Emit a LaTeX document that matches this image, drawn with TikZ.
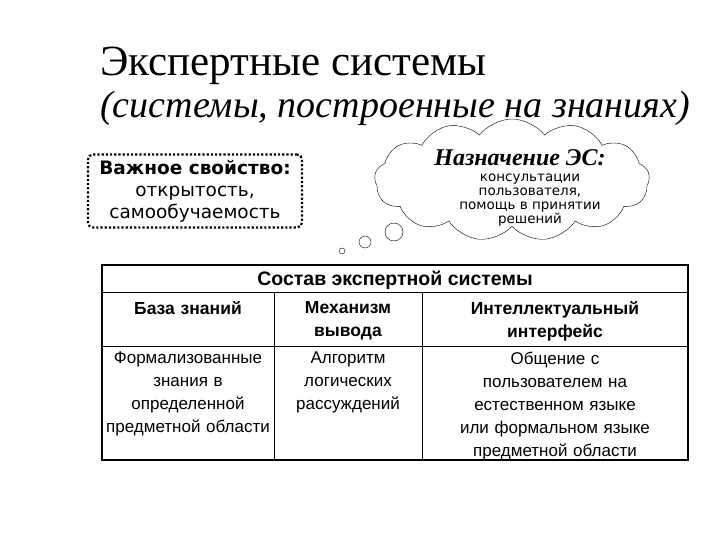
\documentclass[tikz,border=0pt]{standalone}
\usepackage{fontspec}
\setmainfont{Liberation Serif}
\newfontfamily\dv{DejaVu Sans}
\newfontfamily\ar{Liberation Sans}
\usetikzlibrary{shapes.symbols}
\begin{document}
\begin{tikzpicture}[x=1pt,y=-1pt,
  cell/.style={align=center,font=\ar\fontsize{17}{23}\selectfont,anchor=north,text width=262pt,inner sep=2pt},
  hcell/.style={cell,font=\ar\bfseries\fontsize{17.5}{23}\selectfont},
  bub/.style={draw,fill=white}]
\useasboundingbox (0,0) rectangle (720,540);
\node[anchor=base west,inner sep=0,font=\fontsize{43}{48}\selectfont] (t1) at (100,76) {Экспертные системы};
\node[anchor=base west,inner sep=0,font=\fontsize{38}{42}\selectfont\itshape] (t2) at (100,118) {(системы, построенные на знаниях)};
\node[draw,line width=2.2pt,dotted,rounded corners=5pt,minimum width=214pt,minimum height=73pt,align=center,
  font=\dv\fontsize{18.5}{22}\selectfont] (prop) at (195,191)
  {\textbf{Важное свойство:}\\открытость,\\самообучаемость};
\node[cloud,draw,cloud puffs=13,cloud puff arc=105,aspect=2.5,minimum width=275pt,minimum height=122pt] (cl) at (512,180) {};
\node[align=center,font=\fontsize{24}{26}\selectfont\bfseries\itshape] (clt) at (520,158) {Назначение ЭС:};
\node[align=center,font=\dv\fontsize{13.5}{14}\selectfont] (clb) at (530,200) {консультации\\пользователя,\\помощь в принятии\\решений};
\node[bub,circle,minimum size=18pt,inner sep=0] (b3) at (394,232) {};
\node[bub,circle,minimum size=12pt,inner sep=0] (b2) at (365,242) {};
\node[bub,circle,minimum size=6pt,inner sep=0] (b1) at (342,251) {};
\draw[line width=1.5pt] (102,265) rectangle (688,460);
\draw (102,292) -- (688,292);
\draw (102,346) -- (688,346);
\draw (274,292) -- (274,460);
\draw (422,292) -- (422,460);
\node[font=\ar\bfseries\fontsize{19.5}{22}\selectfont] (hd) at (395,280) {Состав экспертной системы};
\node[hcell] (c1) at (188,299) {База знаний};
\node[hcell] (c2) at (348,299) {Механизм\\вывода};
\node[hcell] (c3) at (555,299) {Интеллектуальный\\интерфейс};
\node[cell] (d1) at (188,350) {Формализованные\\знания в\\определенной\\предметной области};
\node[cell] (d2) at (348,350) {Алгоритм\\логических\\рассуждений};
\node[cell] (d3) at (555,350) {Общение с\\пользователем на\\естественном языке\\или формальном языке\\предметной области};
\end{tikzpicture}
\end{document}
